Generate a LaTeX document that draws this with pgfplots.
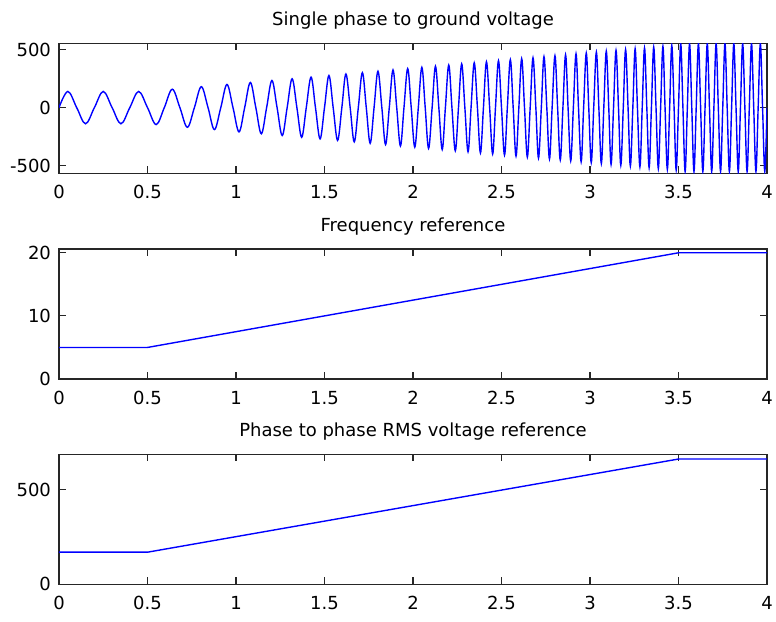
\documentclass[border=0pt]{standalone}
\usepackage{fontspec}
\setmainfont{DejaVu Sans}
\usepackage{pgfplots}
\pgfplotsset{compat=1.18}
\pgfplotsset{
  mlstyle/.style={
    scale only axis, width=354pt, height=65pt,
    xmin=0, xmax=4, xtick={0,0.5,1,1.5,2,2.5,3,3.5,4},
    tick align=inside, major tick length=3.5pt,
    axis line style={line width=0.6pt, black!85},
    every tick/.style={black!85, line width=0.6pt},
    /pgf/number format/assume math mode=true,
    title style={yshift=-2.5pt},
    xticklabel style={yshift=-2.5pt},
    yticklabel style={xshift=-0.5pt},
  },
}
\begin{document}
\begin{tikzpicture}[font=\fontsize{9pt}{11pt}\selectfont]
\path[use as bounding box] (0,0) rectangle (388pt,-310.5pt);
% top
\begin{axis}[mlstyle, at={(29.5pt,-21.65pt)}, anchor=north west,
  ymin=-565, ymax=553, ytick={-500,0,500},
  title={Single phase to ground voltage}]
\addplot[blue, line width=0.7pt, smooth, tension=0.6] coordinates {
(0,0) (0.05,139) (0.1,0) (0.15,-139) (0.2,0) (0.25,139) (0.3,0) (0.35,-139) (0.4,0) (0.45,139) (0.5,0)
(0.549,-146) (0.595,0) (0.640,158) (0.683,0) (0.725,-169) (0.765,0) (0.804,180) (0.842,0) (0.878,-189) (0.914,0) (0.949,199) (0.983,0) (1.017,-208) (1.049,0) (1.081,216) (1.112,0) (1.143,-225) (1.173,0) (1.203,233) (1.232,0) (1.261,-240) (1.289,0) (1.317,248) (1.344,0) (1.371,-255) (1.397,0) (1.424,262) (1.449,0) (1.475,-269) (1.500,0) (1.525,276) (1.549,0) (1.574,-282) (1.598,0) (1.621,289) (1.645,0) (1.668,-295) (1.691,0) (1.714,301) (1.736,0) (1.758,-307) (1.780,0) (1.802,313) (1.824,0) (1.845,-318) (1.866,0) (1.887,324) (1.908,0) (1.929,-330) (1.949,0) (1.970,335) (1.990,0) (2.010,-340) (2.030,0) (2.050,346) (2.069,0) (2.088,-351) (2.108,0) (2.127,356) (2.146,0) (2.165,-361) (2.183,0) (2.202,366) (2.220,0) (2.239,-371) (2.257,0) (2.275,376) (2.293,0) (2.311,-380) (2.328,0) (2.346,385) (2.364,0) (2.381,-390) (2.398,0) (2.415,394) (2.433,0) (2.450,-399) (2.466,0) (2.483,403) (2.500,0) (2.517,-408) (2.533,0) (2.550,412) (2.566,0) (2.582,-417) (2.598,0) (2.614,421) (2.630,0) (2.646,-425) (2.662,0) (2.678,429) (2.694,0) (2.709,-434) (2.725,0) (2.740,438) (2.756,0) (2.771,-442) (2.786,0) (2.802,446) (2.817,0) (2.832,-450) (2.847,0) (2.862,454) (2.876,0) (2.891,-458) (2.906,0) (2.921,462) (2.935,0) (2.950,-466) (2.964,0) (2.979,469) (2.993,0) (3.007,-473) (3.021,0) (3.036,477) (3.050,0) (3.064,-481) (3.078,0) (3.092,485) (3.106,0) (3.119,-488) (3.133,0) (3.147,492) (3.161,0) (3.174,-496) (3.188,0) (3.201,499) (3.215,0) (3.228,-503) (3.242,0) (3.255,506) (3.268,0) (3.282,-510) (3.295,0) (3.308,513) (3.321,0) (3.334,-517) (3.347,0) (3.360,520) (3.373,0) (3.386,-524) (3.399,0) (3.412,527) (3.424,0) (3.437,-531) (3.450,0) (3.462,534) (3.475,0) (3.487,-537) (3.500,0)
(3.5125,550) (3.525,0) (3.5375,-550) (3.55,0) (3.5625,550) (3.575,0) (3.5875,-550) (3.6,0) (3.6125,550) (3.625,0) (3.6375,-550) (3.65,0) (3.6625,550) (3.675,0) (3.6875,-550) (3.7,0) (3.7125,550) (3.725,0) (3.7375,-550) (3.75,0) (3.7625,550) (3.775,0) (3.7875,-550) (3.8,0) (3.8125,550) (3.825,0) (3.8375,-550) (3.85,0) (3.8625,550) (3.875,0) (3.8875,-550) (3.9,0) (3.9125,550) (3.925,0) (3.9375,-550) (3.95,0) (3.9625,550) (3.975,0) (3.9875,-550) (4,0)
};
\end{axis}
% middle
\begin{axis}[mlstyle, at={(29.5pt,-124.5pt)}, anchor=north west,
  ymin=0, ymax=20.6, ytick={0,10,20},
  title={Frequency reference}]
\addplot[blue, line width=0.7pt] coordinates {(0,5) (0.5,5) (3.5,20) (4,20)};
\end{axis}
% bottom
\begin{axis}[mlstyle, at={(29.5pt,-227.15pt)}, anchor=north west,
  ymin=0, ymax=688, ytick={0,500},
  title={Phase to phase RMS voltage reference}]
\addplot[blue, line width=0.7pt] coordinates {(0,170) (0.5,170) (3.5,663) (4,663)};
\end{axis}
\end{tikzpicture}
\end{document}
